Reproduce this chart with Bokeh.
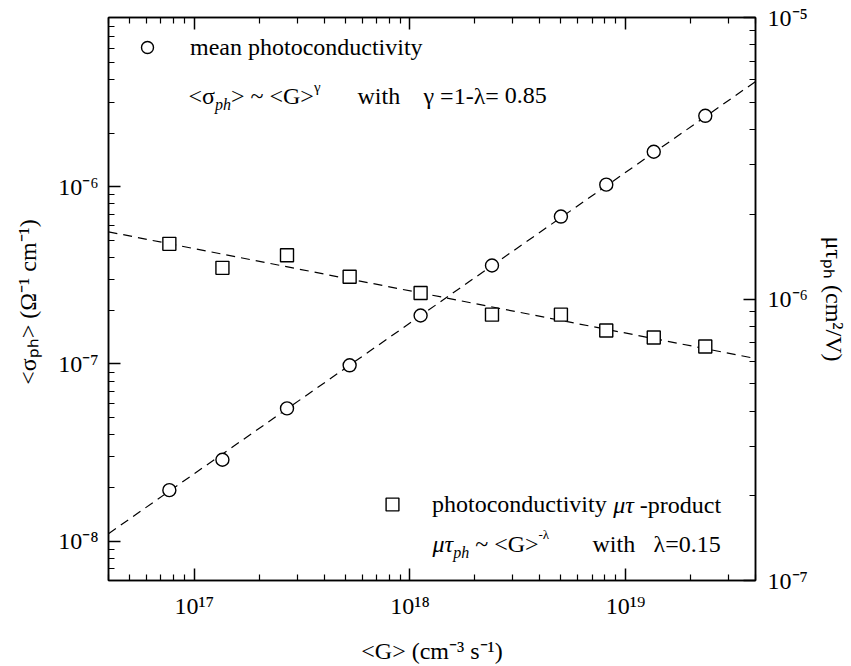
import glob, math, re
import numpy as np
from bokeh.plotting import figure
from bokeh.models import (Range1d, LogAxis, LogScale, FixedTicker, CustomJSTickFormatter,
                          Label, Legend, LegendItem)
from bokeh.embed import file_html
from bokeh.resources import INLINE

# ---------------- data ----------------
G = [7.66e16, 1.35e17, 2.69e17, 5.25e17, 1.12e18, 2.40e18, 5.01e18, 8.13e18, 1.35e19, 2.34e19]
sigma_ph = [1.94e-8, 2.88e-8, 5.61e-8, 9.82e-8, 1.875e-7, 3.59e-7, 6.78e-7, 1.026e-6, 1.574e-6, 2.51e-6]
mutau_ph = [1.57e-6, 1.29e-6, 1.43e-6, 1.20e-6, 1.05e-6, 8.8e-7, 8.8e-7, 7.73e-7, 7.30e-7, 6.78e-7]
gamma = 0.85
lam = 0.15

x_major = [1e17, 1e18, 1e19]
yl_major = [1e-8, 1e-7, 1e-6]
yr_major = [1e-7, 1e-6, 1e-5]

x_title = "<G> (cm\u207b\u00b3 s\u207b\u00b9)"
yl_title = "<\u03c3\u209a\u2095>  (\u03a9\u207b\u00b9 cm\u207b\u00b9)"
yr_title = "\u03bc\u03c4\u209a\u2095 (cm\u00b2/V)"

# ---------------- layout ----------------
W, H = 851, 666
FL, FT, FR, FB = 108, 17, 755, 580
FONT = "Liberation Serif"
FS = 24

def minors(lo, hi):
    return [m * 10.0 ** e for e in range(lo, hi) for m in range(2, 10)]

p = figure(width=W, height=H, x_axis_type="log", y_axis_type="log",
           x_range=Range1d(4e16, 4e19), y_range=Range1d(6.0e-9, 9.0e-6),
           output_backend="svg", toolbar_location=None,
           min_border_left=FL, min_border_right=W - FR,
           min_border_top=FT, min_border_bottom=H - FB)
p.extra_y_ranges = {"r": Range1d(1e-7, 1e-5)}
p.extra_y_scales = {"r": LogScale()}
p.xgrid.visible = False
p.ygrid.visible = False
p.outline_line_color = "black"
p.outline_line_width = 1.5
p.background_fill_color = "white"
p.border_fill_color = "white"

sup_js = """
const e = Math.round(Math.log10(tick));
const m = {"-":"\\u207b","0":"\\u2070","1":"\\u00b9","2":"\\u00b2","3":"\\u00b3","4":"\\u2074","5":"\\u2075","6":"\\u2076","7":"\\u2077","8":"\\u2078","9":"\\u2079"};
return "10" + String(e).split("").map(c => m[c]).join("");
"""

def style_axis(ax, ticks, mins, standoff, labels=True, title=None, title_standoff=10):
    ax.ticker = FixedTicker(ticks=ticks, minor_ticks=mins)
    ax.axis_line_color = "black"
    ax.axis_line_width = 1.5
    ax.major_tick_in = 12
    ax.major_tick_out = 0
    ax.minor_tick_in = 6
    ax.minor_tick_out = 0
    ax.major_tick_line_width = 1.5
    ax.minor_tick_line_width = 1.2
    ax.major_tick_line_color = "black"
    ax.minor_tick_line_color = "black"
    if labels:
        ax.formatter = CustomJSTickFormatter(code=sup_js)
        ax.major_label_text_font = FONT
        ax.major_label_text_font_size = f"{FS}px"
        ax.major_label_text_color = "black"
        ax.major_label_standoff = standoff
    else:
        ax.formatter = CustomJSTickFormatter(code="return '';")
        ax.major_label_text_font_size = "0px"
        ax.major_label_standoff = 0
    if title is not None:
        ax.axis_label = title
        ax.axis_label_text_font = FONT
        ax.axis_label_text_font_size = f"{FS}px"
        ax.axis_label_text_font_style = "normal"
        ax.axis_label_text_color = "black"
        ax.axis_label_standoff = title_standoff

style_axis(p.xaxis[0], x_major, minors(16, 20), 12, title=x_title, title_standoff=16)
style_axis(p.yaxis[0], yl_major, minors(-9, -5), 10, title=yl_title, title_standoff=14)

top = LogAxis()
style_axis(top, x_major, minors(16, 20), 0, labels=False)
p.add_layout(top, "above")

right = LogAxis(y_range_name="r")
style_axis(right, yr_major, minors(-7, -5), 12, title=yr_title, title_standoff=10)
p.add_layout(right, "right")

# ---------------- fit lines ----------------
xr = np.array([p.x_range.start, p.x_range.end])
lg = np.log10(G)
c1 = np.mean(np.log10(sigma_ph) - gamma * lg)
c2 = np.mean(np.log10(mutau_ph) + lam * lg)
p.line(xr, 10 ** (c1 + gamma * np.log10(xr)), line_color="black", line_width=1.2, line_dash="9 6")
p.line(xr, 10 ** (c2 - lam * np.log10(xr)), line_color="black", line_width=1.2, line_dash="9 6",
       y_range_name="r")

r_c = p.scatter(G, sigma_ph, marker="circle", size=13, line_color="black", line_width=1.4,
                fill_color="white")
r_s = p.scatter(G, mutau_ph, marker="square", size=13, line_color="black", line_width=1.4,
                fill_color="white", y_range_name="r")

# ---------------- text helpers ----------------
def find_font(name):
    c = glob.glob(f"/usr/share/fonts/**/{name}", recursive=True) + \
        glob.glob(f"/usr/local/share/fonts/**/{name}", recursive=True)
    return c[0] if c else None

try:
    from PIL import ImageFont
    REG = find_font("LiberationSerif-Regular.ttf")
    ITA = find_font("LiberationSerif-Italic.ttf")
except Exception:
    ImageFont, REG, ITA = None, None, None
_cache = {}

def tw(text, size, italic=False):
    path = ITA if italic else REG
    if ImageFont is not None and path:
        key = (path, size)
        if key not in _cache:
            _cache[key] = ImageFont.truetype(path, size)
        return _cache[key].getlength(text)
    return 0.5 * size * len(text)

def runs(x0, y0, parts):
    """x0,y0 canvas coords of the start of the middle line (inside the frame)."""
    pos = 0.0
    for text, size, rise, italic in parts:
        for m in re.finditer(r"\S+", text):
            off = pos + tw(text[:m.start()], size, italic)
            cx, cy = x0 + off, y0 - rise
            p.add_layout(Label(x=cx - FL, y=FB - cy, x_units="screen", y_units="screen",
                               text=m.group(0), text_font=FONT,
                               text_font_size=f"{size}px",
                               text_font_style="italic" if italic else "normal",
                               text_color="black", text_align="left", text_baseline="middle"))
        pos += tw(text, size, italic)

SUP, SUB = 15, 16
SR, BR = 8, -9

# legends (marker + first text)
leg_style = dict(padding=0, margin=0, border_line_color=None, background_fill_alpha=0,
                 label_text_font=FONT, label_text_font_size=f"{FS}px", label_text_color="black")
leg1 = Legend(items=[LegendItem(label="mean photoconductivity", renderers=[r_c])],
              location=(132 - FL, FB - 62), glyph_width=30, glyph_height=30,
              label_standoff=28, **leg_style)
leg2 = Legend(items=[LegendItem(label="photoconductivity", renderers=[r_s])],
              location=(376 - FL, FB - 520), glyph_width=32, glyph_height=32,
              label_standoff=24, **leg_style)
p.add_layout(leg1)
p.add_layout(leg2)

runs(432 + tw("photoconductivity ", FS), 504, [("μτ", FS, 0, True), (" -product", FS, 0, False)])

runs(188, 95, [("<σ", FS, 0, False), ("ph", SUB, BR, True), ("> ~ <G>", FS, 0, False),
               ("γ", SUP, SR + 1, False)])
runs(357, 95, [("with", FS, 0, False)])
runs(423, 95, [("γ =1-λ= 0.85", FS, 0, False)])

runs(432, 543, [("μτ", FS, 0, True), ("ph", SUB, BR, True), (" ~ <G>", FS, 0, False),
                ("-λ", SUP - 2, SR + 1, False)])
runs(592, 543, [("with", FS, 0, False)])
runs(653, 543, [("λ=0.15", FS, 0, False)])

open("out.html", "w").write(file_html(p, INLINE))
